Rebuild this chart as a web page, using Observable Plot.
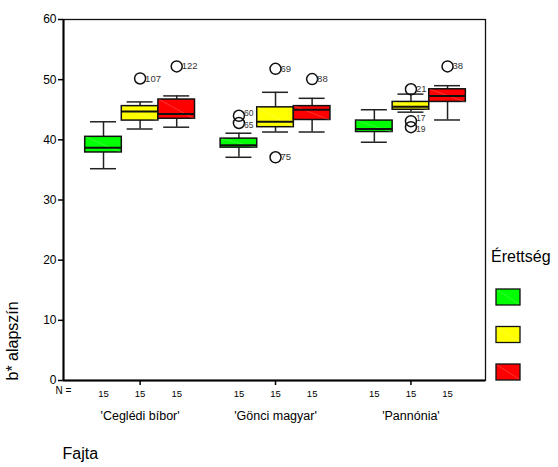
<!DOCTYPE html>
<html>
<head>
<meta charset="utf-8">
<script src="https://cdn.jsdelivr.net/npm/d3@7"></script>
<script src="https://cdn.jsdelivr.net/npm/@observablehq/plot@0.6"></script>
<style>
  html, body { margin: 0; padding: 0; background: #fff; }
  #chart { width: 558px; height: 467px; }
  svg { font-family: Arial, "Liberation Sans", sans-serif; }
</style>
</head>
<body>
<div id="chart"></div>
<script>
// ---- data ----
const cultivars = ["'Ceglédi bíbor'", "'Gönci magyar'", "'Pannónia'"];
const ripeness = ["1", "2", "3"];
const ripenessColors = ["#00ff00", "#ffff00", "#ff0000"];
const counts = [15, 15, 15, 15, 15, 15, 15, 15, 15];
// [lower whisker, Q1, median, Q3, upper whisker], cultivar-major order
const boxStats = [
  [35.2, 37.9, 38.7, 40.5, 43.0],
  [41.8, 43.2, 44.7, 45.6, 46.3],
  [42.1, 43.5, 44.3, 46.7, 47.3],
  [37.1, 38.7, 39.1, 40.2, 41.1],
  [41.3, 42.1, 43.0, 45.4, 47.9],
  [41.3, 43.3, 45.0, 45.6, 46.9],
  [39.6, 41.3, 41.8, 43.2, 45.0],
  [44.6, 45.0, 45.5, 46.3, 47.6],
  [43.3, 46.3, 47.3, 48.4, 49.0]
];
const outlierCultivar = [0, 0, 1, 1, 1, 1, 1, 2, 2, 2, 2];
const outlierRipeness = [1, 2, 0, 0, 1, 1, 2, 1, 1, 1, 2];
const outlierValues = [50.2, 52.2, 44.0, 42.8, 51.8, 37.1, 50.1, 48.4, 43.1, 42.1, 52.2];
const outlierLabels = ["107", "122", "60", "65", "69", "75", "88", "21", "17", "19", "38"];
const yTicks = [0, 10, 20, 30, 40, 50, 60];

// ---- build tables ----
const groupStep = 3.7;
const pos = (g, s) => g * groupStep + s;
const boxes = boxStats.map((st, i) => {
  const g = Math.floor(i / 3), s = i % 3;
  return {cultivar: cultivars[g], ripe: ripeness[s], p: pos(g, s),
    lo: st[0], q1: st[1], med: st[2], q3: st[3], hi: st[4], n: counts[i]};
});
const outliers = outlierValues.map((v, i) => ({
  p: pos(outlierCultivar[i], outlierRipeness[i]), v, label: outlierLabels[i]
}));
// nudge labels of near-coincident outliers apart so their texts do not collide
outliers.forEach((o) => {
  o.dy = 0;
  outliers.forEach((q) => {
    if (q !== o && q.p === o.p && Math.abs(q.v - o.v) < 1.6) o.dy += (o.v > q.v ? -2.5 : 2.5);
  });
});
const groupCenters = cultivars.map((c, g) => pos(g, 1));

const plot = Plot.plot({
  width: 558,
  height: 467,
  marginLeft: 63,
  marginRight: 73,
  marginTop: 19,
  marginBottom: 87,
  style: {fontFamily: "Arial, 'Liberation Sans', sans-serif", background: "#fff"},
  x: {type: "linear", domain: [-1.093, 10.437], axis: null},
  y: {domain: [0, 60], axis: null},
  color: {domain: ripeness, range: ripenessColors},
  marks: [
    Plot.frame({stroke: "#111", strokeWidth: 1.3}),
    Plot.ruleX([0], {x: () => -1.093, y1: 0, y2: 60, stroke: "#000", strokeWidth: 2}),
    Plot.ruleY([0], {stroke: "#000", strokeWidth: 2}),
    Plot.axisY({ticks: yTicks, tickSize: 5, tickPadding: 2, fontSize: 12, label: null, stroke: "#000", color: "#000", strokeWidth: 1.5}),
    Plot.axisX({ticks: groupCenters, tickSize: 5, tickPadding: 26, fontSize: 12.5, label: null,
      tickFormat: (d) => cultivars[groupCenters.indexOf(d)], stroke: "#000", color: "#000", strokeWidth: 1.5}),
    // whiskers
    Plot.ruleX(boxes, {x: "p", y1: "lo", y2: "q1", stroke: "#222", strokeWidth: 1.5}),
    Plot.ruleX(boxes, {x: "p", y1: "q3", y2: "hi", stroke: "#222", strokeWidth: 1.5}),
    Plot.ruleY(boxes, {y: "lo", x1: (d) => d.p - 0.355, x2: (d) => d.p + 0.355, stroke: "#222", strokeWidth: 1.5}),
    Plot.ruleY(boxes, {y: "hi", x1: (d) => d.p - 0.355, x2: (d) => d.p + 0.355, stroke: "#222", strokeWidth: 1.5}),
    // boxes
    Plot.rect(boxes, {x1: (d) => d.p - 0.5, x2: (d) => d.p + 0.5, y1: "q1", y2: "q3", fill: "ripe", stroke: "#111", strokeWidth: 1.5}),
    Plot.link(boxes, {x1: (d) => d.p - 0.48, x2: (d) => d.p + 0.48, y1: "q3", y2: "q1", stroke: "#fff", strokeOpacity: 0.2, strokeWidth: 1}),
    Plot.ruleY(boxes, {y: "med", x1: (d) => d.p - 0.5, x2: (d) => d.p + 0.5, stroke: "#111", strokeWidth: 2}),
    // outliers
    Plot.dot(outliers, {x: "p", y: "v", r: 5.5, stroke: "#111", strokeWidth: 1.5, fill: "none"}),
    ...outliers.map((o) => Plot.text([o], {x: "p", y: "v", text: "label", dx: 5, dy: o.dy, textAnchor: "start",
      fontSize: o.dy !== 0 ? 8.5 : 9.5, fill: "#333"})),
    // N row
    Plot.text(boxes, {x: "p", y: () => 0, text: (d) => String(d.n), dy: 13, fontSize: 9.5, fill: "#000"}),
    Plot.text(["N ="], {frameAnchor: "bottom-left", dy: 13, textAnchor: "middle", fontSize: 10, fill: "#000"}),
    // titles
    Plot.text(["b* alapszín"], {frameAnchor: "bottom-left", dx: -46, rotate: -90, textAnchor: "start", fontSize: 16, fill: "#000"}),
    Plot.text(["Fajta"], {frameAnchor: "bottom-left", dx: -1, dy: 78, textAnchor: "start", fontSize: 16, fill: "#000"})
  ]
});

// legend (no item labels in the reference)
const svg = d3.select(plot);
const color = plot.scale("color");
const lg = svg.append("g").attr("text-anchor", "start");
lg.append("text").attr("x", 491).attr("y", 262).attr("font-size", 16).attr("fill", "#000").text("Érettség");
ripeness.forEach((r, i) => {
  const y0 = 289 + i * 37.5;
  lg.append("rect").attr("x", 496).attr("y", y0).attr("width", 24).attr("height", 16)
    .attr("fill", color.apply(r)).attr("stroke", "#111").attr("stroke-width", 1.3);
  lg.append("line").attr("x1", 497).attr("y1", y0 + 1).attr("x2", 519).attr("y2", y0 + 15)
    .attr("stroke", "#fff").attr("stroke-opacity", 0.2);
});
document.getElementById("chart").appendChild(plot);
</script>
</body>
</html>
